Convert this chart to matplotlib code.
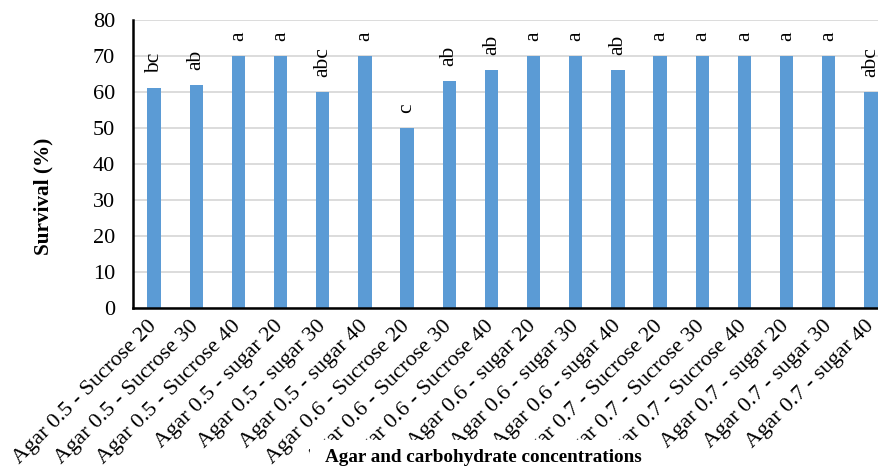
import matplotlib
matplotlib.use("Agg")
import matplotlib.pyplot as plt
from matplotlib.patches import Rectangle

# treatments and survival values
treatments = ["Agar 0.5 - Sucrose 20", "Agar 0.5 - Sucrose 30", "Agar 0.5 - Sucrose 40",
              "Agar 0.5 - sugar 20", "Agar 0.5 - sugar 30", "Agar 0.5 - sugar 40",
              "Agar 0.6 - Sucrose 20", "Agar 0.6 - Sucrose 30", "Agar 0.6 - Sucrose 40",
              "Agar 0.6 - sugar 20", "Agar 0.6 - sugar 30", "Agar 0.6 - sugar 40",
              "Agar 0.7 - Sucrose 20", "Agar 0.7 - Sucrose 30", "Agar 0.7 - Sucrose 40",
              "Agar 0.7 - sugar 20", "Agar 0.7 - sugar 30", "Agar 0.7 - sugar 40"]
survival = [61, 62, 70, 70, 60, 70, 50, 63, 66, 70, 70, 66, 70, 70, 70, 70, 70, 60]
letters = ["bc", "ab", "a", "a", "abc", "a", "c", "ab", "ab",
           "a", "a", "ab", "a", "a", "a", "a", "a", "abc"]
yticks = [0, 10, 20, 30, 40, 50, 60, 70, 80]

plt.rcParams['font.family'] = ['Liberation Serif', 'DejaVu Serif']

fig = plt.figure(figsize=(8.79, 4.68), dpi=100)
ax = fig.add_axes([133/879, 160/468, 759/879, 288/468])

x = list(range(len(treatments)))
bars = ax.bar(x, survival, width=0.316, color="#5b9bd5", zorder=3)

for i, (v, s) in enumerate(zip(survival, letters)):
    ax.annotate(s, (i, v), xytext=(0, 11), textcoords="offset points",
                rotation=90, ha="center", va="bottom", fontsize=15.5)

ax.set_xlim(-0.5, len(treatments) - 0.5)
ax.set_ylim(0, 80)
ax.set_yticks(yticks)
ax.set_yticklabels([str(t) for t in yticks], fontsize=16)
ax.set_xticks(x)
ax.set_xticklabels(treatments, rotation=45, ha="right", va="center",
                   rotation_mode="anchor", fontsize=16)
ax.tick_params(axis="both", length=0)
ax.tick_params(axis="y", pad=13)
ax.tick_params(axis="x", pad=11)

ax.grid(axis="y", color="#d9d9d9", linewidth=1.3, zorder=0)
for side in ["top", "right"]:
    ax.spines[side].set_visible(False)
for side in ["left", "bottom"]:
    ax.spines[side].set_linewidth(1.8)
    ax.spines[side].set_color("black")
    ax.spines[side].set_zorder(4)

# axis titles drawn like the original (white box covers part of the tick labels)
fig.patches.append(Rectangle((310/879, 0), 350/879, 28/468, transform=fig.transFigure,
                             facecolor="white", edgecolor="none", zorder=5))
fig.text(483/879, 1 - 458/468, "Agar and carbohydrate concentrations", ha="center",
         va="center", fontsize=13.8, fontweight="bold", zorder=6)
fig.text(43/879, 1 - 196/468, "Survival (%)", ha="center", va="center", rotation=90,
         fontsize=15.3, fontweight="bold")

fig.savefig("out.png", dpi=100)
